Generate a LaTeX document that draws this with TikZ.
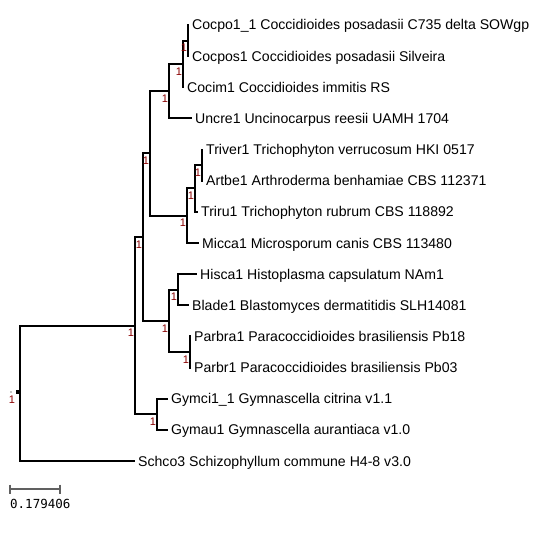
\documentclass[tikz,border=0pt]{standalone}
\usepackage{fontspec}
\setmainfont{Liberation Sans}
\newfontfamily\sbfont{DejaVu Sans Mono}
\definecolor{bsred}{HTML}{8B0000}
\definecolor{sbgray}{HTML}{606060}
\begin{document}
\begin{tikzpicture}[x=1pt,y=-1pt,
  br/.style={line width=2pt, black},
  leaf/.style={anchor=base west, inner sep=0pt, xshift=3pt, yshift=-5pt, font=\fontsize{14.1}{14}\selectfont},
  bs/.style={text=bsred, inner sep=0pt, font=\fontsize{11}{11}\selectfont},
  sb/.style={line width=1.5pt, sbgray}]
\useasboundingbox[fill=white] (0,0) rectangle (542,535);
% leaf tips
\coordinate (tCocpo)  at (189,25);
\coordinate (tCocpos) at (189,56.1);
\coordinate (tCocim)  at (184,87.3);
\coordinate (tUncre)  at (192,118.4);
\coordinate (tTriver) at (203,149.6);
\coordinate (tArtbe)  at (203,180.7);
\coordinate (tTriru)  at (198,211.8);
\coordinate (tMicca)  at (199,243);
\coordinate (tHisca)  at (197,274.1);
\coordinate (tBlade)  at (189,305.3);
\coordinate (tParbra) at (191,336.4);
\coordinate (tParbr)  at (191,367.5);
\coordinate (tGymci)  at (168,398.7);
\coordinate (tGymau)  at (168,429.8);
\coordinate (tSchco)  at (135,461);
% internal nodes
\coordinate (N8)  at (188,40.6);
\coordinate (N7)  at (183,64);
\coordinate (N6)  at (169,91.2);
\coordinate (N10) at (202,165.2);
\coordinate (N9)  at (195,188.5);
\coordinate (N4)  at (187,215.7);
\coordinate (N3)  at (150,153.5);
\coordinate (N11) at (178,289.7);
\coordinate (N12) at (190,352);
\coordinate (N5)  at (169,320.8);
\coordinate (N2)  at (143,237.2);
\coordinate (N13) at (157,414.3);
\coordinate (N1)  at (135,325.7);
\coordinate (R)   at (20,393.4);
% branches
\draw[br] (R) |- (N1);   \draw[br] (R) |- (tSchco);
\draw[br] (N1) |- (N2);  \draw[br] (N1) |- (N13);
\draw[br] (N2) |- (N3);  \draw[br] (N2) |- (N5);
\draw[br] (N3) |- (N6);  \draw[br] (N3) |- (N4);
\draw[br] (N6) |- (N7);  \draw[br] (N6) |- (tUncre);
\draw[br] (N7) |- (N8);  \draw[br] (N7) |- (tCocim);
\draw[br] (N8) |- (tCocpo); \draw[br] (N8) |- (tCocpos);
\draw[br] (N4) |- (N9);  \draw[br] (N4) |- (tMicca);
\draw[br] (N9) |- (N10); \draw[br] (N9) |- (tTriru);
\draw[br] (N10) |- (tTriver); \draw[br] (N10) |- (tArtbe);
\draw[br] (N5) |- (N11); \draw[br] (N5) |- (N12);
\draw[br] (N11) |- (tHisca); \draw[br] (N11) |- (tBlade);
\draw[br] (N12) |- (tParbra); \draw[br] (N12) |- (tParbr);
\draw[br] (N13) |- (tGymci); \draw[br] (N13) |- (tGymau);
% leaf labels
\node[leaf] (Cocpo)  at (tCocpo)  {Cocpo1\_1 Coccidioides posadasii C735 delta SOWgp};
\node[leaf] (Cocpos) at (tCocpos) {Cocpos1 Coccidioides posadasii Silveira};
\node[leaf] (Cocim)  at (tCocim)  {Cocim1 Coccidioides immitis RS};
\node[leaf] (Uncre)  at (tUncre)  {Uncre1 Uncinocarpus reesii UAMH 1704};
\node[leaf] (Triver) at (tTriver) {Triver1 Trichophyton verrucosum HKI 0517};
\node[leaf] (Artbe)  at (tArtbe)  {Artbe1 Arthroderma benhamiae CBS 112371};
\node[leaf] (Triru)  at (tTriru)  {Triru1 Trichophyton rubrum CBS 118892};
\node[leaf] (Micca)  at (tMicca)  {Micca1 Microsporum canis CBS 113480};
\node[leaf] (Hisca)  at (tHisca)  {Hisca1 Histoplasma capsulatum NAm1};
\node[leaf] (Blade)  at (tBlade)  {Blade1 Blastomyces dermatitidis SLH14081};
\node[leaf] (Parbra) at (tParbra) {Parbra1 Paracoccidioides brasiliensis Pb18};
\node[leaf] (Parbr)  at (tParbr)  {Parbr1 Paracoccidioides brasiliensis Pb03};
\node[leaf] (Gymci)  at (tGymci)  {Gymci1\_1 Gymnascella citrina v1.1};
\node[leaf] (Gymau)  at (tGymau)  {Gymau1 Gymnascella aurantiaca v1.0};
\node[leaf] (Schco)  at (tSchco)  {Schco3 Schizophyllum commune H4-8 v3.0};
% support values
\foreach \n in {N1,N2,N3,N4,N5,N6,N7,N8,N9,N10,N11,N12,N13}
  \node[bs] (b\n) at ([shift={(-4,7.5)}]\n) {1};
% root marker
\fill[gray!45] (10,390.7) rectangle (12,392.7);
\fill[black] (15.5,390) rectangle (19.5,394);
\node[bs] (bR) at (12,399.5) {1};
% scale bar
\coordinate (sbL) at (10,489);
\coordinate (sbR) at (60,489);
\draw[sb] (sbL) -- (sbR);
\draw[sb] ([yshift=4.5pt]sbL) -- ([yshift=-4.5pt]sbL);
\draw[sb] ([yshift=4.5pt]sbR) -- ([yshift=-4.5pt]sbR);
\node[anchor=base west, inner sep=0pt, font=\sbfont\fontsize{12.5}{12.5}\selectfont] (sbtext) at (10,508) {0.179406};
\end{tikzpicture}
\end{document}
